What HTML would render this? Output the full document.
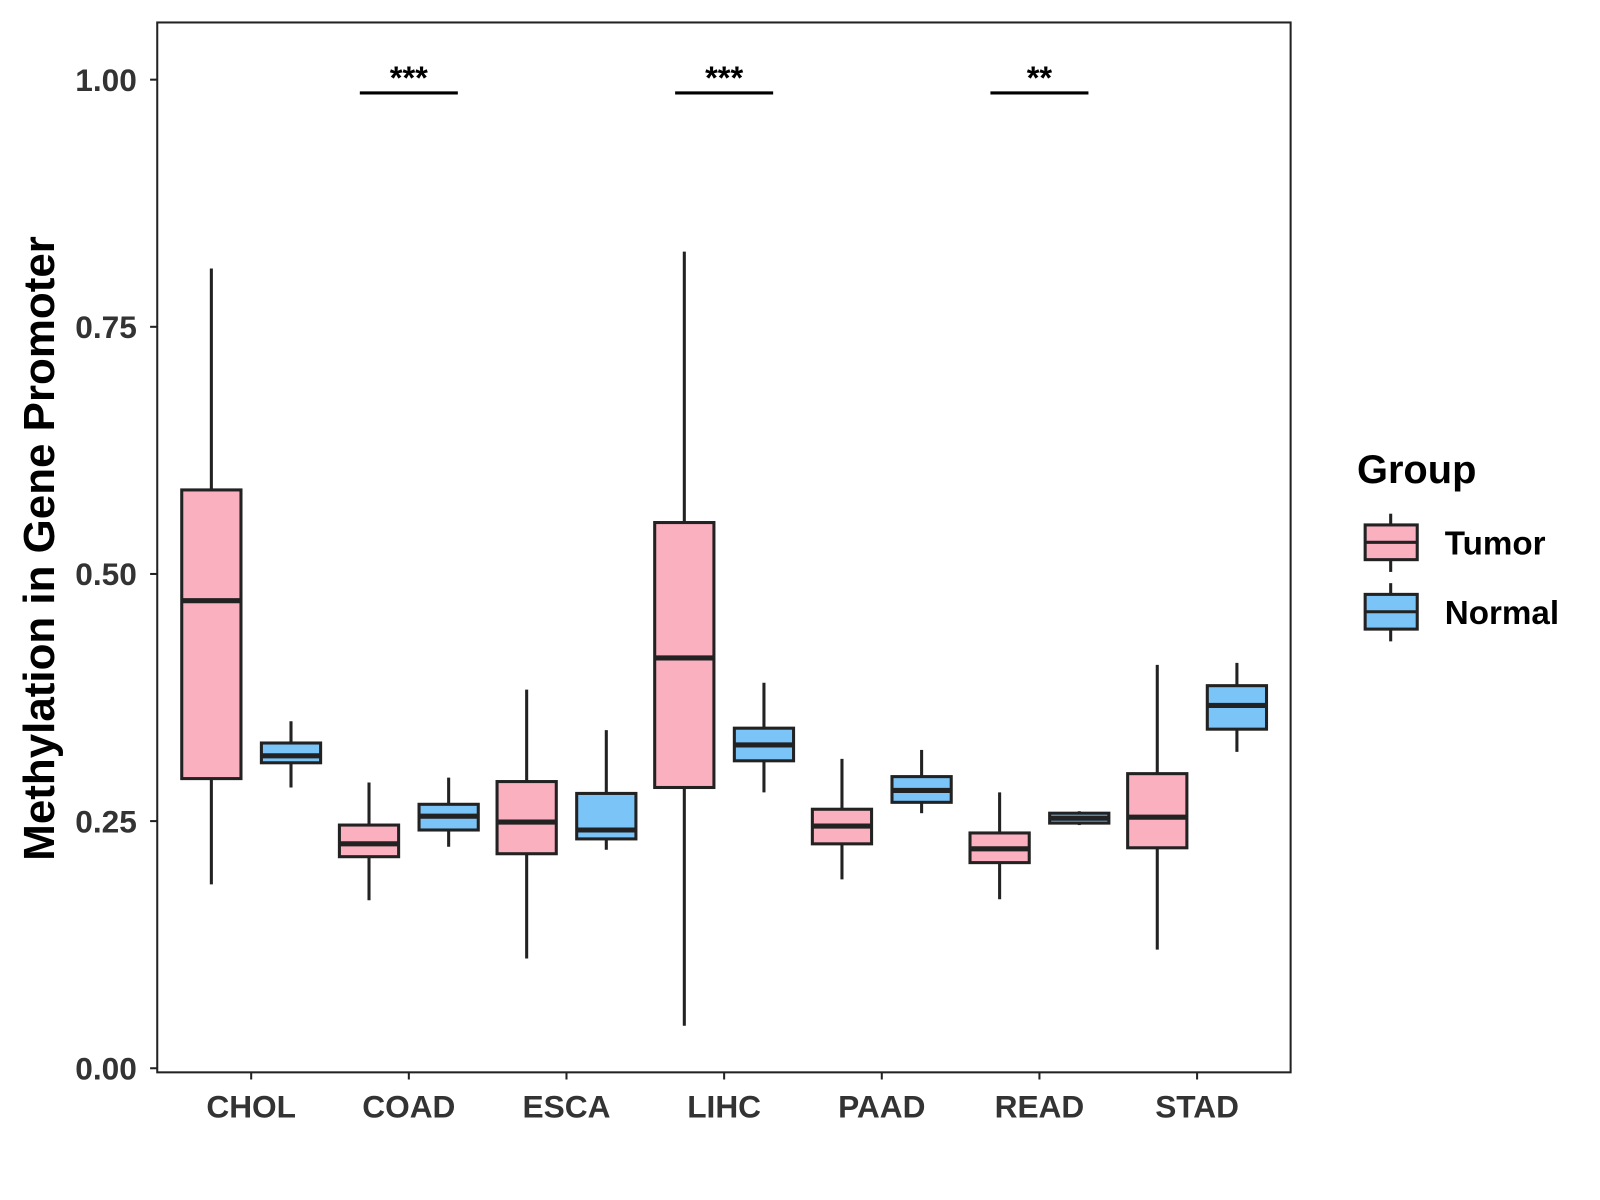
<!DOCTYPE html>
<html><head><meta charset="utf-8"><style>
html,body{margin:0;padding:0;background:#fff;}
svg{display:block;font-family:"Liberation Sans",Arial,sans-serif;}
</style></head><body>
<svg id="chart" width="1600" height="1200" viewBox="0 0 1567 1175" preserveAspectRatio="none" xmlns="http://www.w3.org/2000/svg">
<rect x="0" y="0" width="1567" height="1175" fill="#fff"/>
<rect x="154" y="22" width="1110" height="1028" fill="#fff" stroke="#222" stroke-width="2"/>
<g id="marks"></g>
<text transform="translate(53,537) rotate(-90)" text-anchor="middle" font-size="43" font-weight="bold" fill="#000">Methylation in Gene Promoter</text>
<g>
<text x="1329" y="473" font-size="39" font-weight="bold">Group</text>
<g>
<line x1="1362" y1="503" x2="1362" y2="560" stroke="#222" stroke-width="3"/>
<rect x="1337" y="514" width="51" height="34" fill="#FBB0C0" stroke="#222" stroke-width="3"/>
<line x1="1337" y1="531" x2="1388" y2="531" stroke="#222" stroke-width="3"/>
<text x="1415" y="543" font-size="32.5" font-weight="bold">Tumor</text></g>
<g>
<line x1="1362" y1="571" x2="1362" y2="628" stroke="#222" stroke-width="3"/>
<rect x="1337" y="582" width="51" height="34" fill="#7BC4F8" stroke="#222" stroke-width="3"/>
<line x1="1337" y1="599" x2="1388" y2="599" stroke="#222" stroke-width="3"/>
<text x="1415" y="611" font-size="32.5" font-weight="bold">Normal</text></g>
</g>
</svg>
<script>
const categories=["CHOL","COAD","ESCA","LIHC","PAAD","READ","STAD"];
const tumorLow=[0.186,0.170,0.111,0.043,0.191,0.171,0.120];
const tumorQ1=[0.293,0.214,0.217,0.284,0.227,0.208,0.223];
const tumorMed=[0.473,0.227,0.249,0.415,0.245,0.222,0.254];
const tumorQ3=[0.585,0.246,0.290,0.552,0.262,0.238,0.298];
const tumorHigh=[0.809,0.289,0.383,0.826,0.313,0.279,0.408];
const normalLow=[0.284,0.224,0.221,0.279,0.258,0.246,0.320];
const normalQ1=[0.309,0.241,0.232,0.311,0.269,0.248,0.343];
const normalMed=[0.316,0.255,0.241,0.327,0.281,0.253,0.367];
const normalQ3=[0.329,0.267,0.278,0.344,0.295,0.258,0.387];
const normalHigh=[0.351,0.294,0.342,0.390,0.322,0.260,0.410];
const yTicks=[0,0.25,0.5,0.75,1.0];
const yTickLabels=["0.00","0.25","0.50","0.75","1.00"];
const sigCategories=["COAD","LIHC","READ"];
const sigLabels=["***","***","**"];

const NS="http://www.w3.org/2000/svg";
const g=document.getElementById('marks');
function y(v){return 1046-v*968;}
function x(i){return 246+i*154.4;}
function el(t,a){const e=document.createElementNS(NS,t);for(const k in a)e.setAttribute(k,a[k]);g.appendChild(e);return e;}

yTicks.forEach((v,i)=>{
  const t=el('line',{x1:147,x2:154,y1:y(v),y2:y(v),stroke:'#222','stroke-width':2});
  
  
  const l=el('text',{x:134,y:y(v)+11,'text-anchor':'end','font-size':31,'font-weight':'bold',fill:'#333'});
  l.textContent=yTickLabels[i];
  
  
});
categories.forEach((c,i)=>{
  const t=el('line',{x1:x(i),x2:x(i),y1:1050,y2:1057,stroke:'#222','stroke-width':2});
  
  
  const l=el('text',{x:x(i),y:1094,'text-anchor':'middle','font-size':31,'font-weight':'bold',fill:'#333'});
  l.textContent=c;
  
  
});
function box(cx,lo,q1,md,q3,hi,fill,name){
  const w=el('line',{x1:cx,x2:cx,y1:y(hi),y2:y(lo),stroke:'#222','stroke-width':3});
  
  
  const r=el('rect',{x:cx-29,y:y(q3),width:58,height:y(q1)-y(q3),fill:fill,stroke:'#222','stroke-width':3});
  
  
  const m=el('line',{x1:cx-29,x2:cx+29,y1:y(md),y2:y(md),stroke:'#222','stroke-width':5});
  
  
}
categories.forEach((c,i)=>{
  box(x(i)-39,tumorLow[i],tumorQ1[i],tumorMed[i],tumorQ3[i],tumorHigh[i],'#FBB0C0',c.toLowerCase()+'-tumor');
  box(x(i)+39,normalLow[i],normalQ1[i],normalMed[i],normalQ3[i],normalHigh[i],'#7BC4F8',c.toLowerCase()+'-normal');
});
sigCategories.forEach((c,k)=>{
  const i=categories.indexOf(c);
  const l=el('line',{x1:x(i)-48,x2:x(i)+48,y1:91,y2:91,stroke:'#000','stroke-width':3});
  
  
  const t=el('text',{x:x(i),y:87,'text-anchor':'middle','font-size':32,'font-weight':'bold',fill:'#000'});
  t.textContent=sigLabels[k];
  
  
});
</script>
</body></html>
